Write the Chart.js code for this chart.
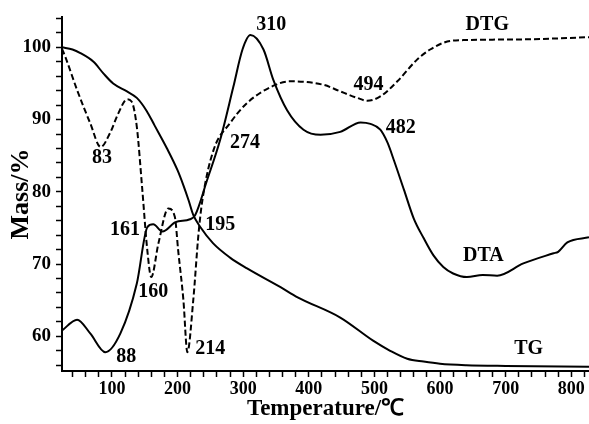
<!DOCTYPE html>
<html>
<head>
<meta charset="utf-8">
<script src="https://cdn.jsdelivr.net/npm/chart.js@4.4.1/dist/chart.umd.min.js"></script>
<style>
  html, body { margin: 0; padding: 0; background: #fff; }
  #chartTG { display: block; }
</style>
</head>
<body>
<canvas id="chartTG" width="589" height="424"></canvas>
<script>
// ============= DATA =============
const tgTemp = [24, 40, 52, 72, 87, 102, 123, 138, 153, 165, 184, 200, 209, 217, 224, 235, 254, 280, 306, 357, 383, 448, 498, 524, 550, 575, 600, 640, 700, 827];
const tgMass = [100, 99.7, 99.2, 98.0, 96.4, 95.0, 93.9, 93.0, 91.2, 89.2, 86.0, 83.0, 80.9, 78.8, 76.8, 75.1, 72.9, 70.9, 69.4, 66.8, 65.4, 62.6, 59.4, 58.0, 56.9, 56.5, 56.2, 56.0, 55.9, 55.8];

const dtaTemp = [24, 47, 67, 90, 113, 138, 154, 163, 177, 197, 219, 227, 245, 265, 285, 299, 311, 331, 346, 367, 392, 418, 448, 479, 494, 509, 520, 530, 545, 560, 575, 590, 605, 620, 641, 665, 687, 727, 773, 780, 794, 827];
const dtaVal  = [60.8, 62.3, 60.4, 57.8, 60.4, 67.3, 75.1, 75.5, 74.5, 75.8, 76.2, 76.8, 81.6, 87.2, 94.5, 99.7, 101.7, 99.7, 95.5, 91.3, 88.6, 87.9, 88.3, 89.6, 89.4, 88.6, 86.8, 84.3, 80.3, 76.3, 73.6, 71.2, 69.6, 68.7, 68.2, 68.5, 68.4, 70.1, 71.5, 71.7, 73.0, 73.7];

const dtgTemp = [24, 29, 47, 67, 83, 97, 110, 123, 130, 138, 146, 154, 160, 171, 186, 196, 201, 209, 215, 224, 232, 238, 255, 280, 306, 349, 372, 423, 448, 474, 489, 509, 535, 565, 585, 611, 636, 727, 827];
const dtgVal  = [99.8, 98.7, 94.1, 89.5, 86.2, 88.1, 90.9, 92.8, 92.5, 89.0, 80.7, 71.9, 68.2, 72.9, 77.7, 76.5, 71.9, 65.0, 57.8, 65.0, 74.2, 78.9, 85.8, 89.5, 92.3, 94.8, 95.3, 94.8, 93.9, 93.0, 92.6, 93.2, 95.3, 98.3, 99.7, 100.8, 101.0, 101.1, 101.4];

// peak annotations, placed in data units
const noteText = ['310', '83', '274', '161', '195', '160', '88', '214', '494', '482', 'DTG', 'DTA', 'TG'];
const noteTemp = [343, 85, 303, 120, 265, 163, 122, 250, 491, 540, 672, 666, 735];
const noteVal  = [103.1, 84.7, 86.8, 74.8, 75.5, 66.1, 57.1, 58.3, 94.8, 88.8, 103.1, 71.2, 58.2];

const xTicks = [];
for (let t = 40; t <= 820; t += 20) xTicks.push(t);
const yTicks = [];
for (let v = 56; v <= 104; v += 2) yTicks.push(v);

const FONT = '"Liberation Serif", "Times New Roman", serif';

function toPoints(xs, ys){
  return xs.map((x, i) => ({ x, y: ys[i] }));
}

// ============= ANNOTATION PLUGIN =============
const peakLabels = {
  id: 'peakLabels',
  afterDatasetsDraw(chart){
    const ctx = chart.ctx;
    const xs = chart.scales.x, ys = chart.scales.y;
    ctx.save();
    ctx.fillStyle = '#000';
    ctx.font = 'bold 20px ' + FONT;
    ctx.textAlign = 'center';
    ctx.textBaseline = 'middle';
    noteText.forEach((t, i) => {
      ctx.fillText(t, xs.getPixelForValue(noteTemp[i]), ys.getPixelForValue(noteVal[i]));
    });
    ctx.restore();
  }
};

const lineStyle = {
  borderColor: '#000',
  borderWidth: 2,
  pointRadius: 0,
  fill: false,
  cubicInterpolationMode: 'monotone'
};

new Chart(document.getElementById('chartTG'), {
  type: 'line',
  data: {
    datasets: [
      Object.assign({ label: 'TG', data: toPoints(tgTemp, tgMass) }, lineStyle),
      Object.assign({ label: 'DTA', data: toPoints(dtaTemp, dtaVal) }, lineStyle),
      Object.assign({ label: 'DTG', data: toPoints(dtgTemp, dtgVal), borderDash: [6, 3] }, lineStyle)
    ]
  },
  options: {
    responsive: false,
    animation: false,
    layout: { padding: { top: 17, right: 0, left: 0, bottom: 0 } },
    plugins: {
      legend: { display: false },
      tooltip: { enabled: false }
    },
    scales: {
      x: {
        type: 'linear',
        min: 24,
        max: 827,
        afterBuildTicks: (axis) => { axis.ticks = xTicks.map(v => ({ value: v })); },
        afterFit: (scale) => { scale.height = 53; },
        border: { display: true, color: '#000', width: 2 },
        grid: { drawOnChartArea: false, drawTicks: true, tickLength: 6, tickWidth: 1.5, tickColor: '#000' },
        ticks: {
          autoSkip: false,
          maxRotation: 0,
          padding: 2,
          color: '#000',
          font: { family: FONT, size: 18, weight: 'bold' },
          callback: (v) => (v % 100 === 0 ? String(v) : '')
        },
        title: {
          display: true,
          text: 'Temperature/℃',
          color: '#000',
          padding: { top: 0, bottom: 1 },
          font: { family: FONT, size: 23, weight: 'bold' }
        }
      },
      y: {
        type: 'linear',
        min: 55.2,
        max: 104.2,
        afterBuildTicks: (axis) => { axis.ticks = yTicks.map(v => ({ value: v })); },
        afterFit: (scale) => { scale.width = 62; },
        border: { display: true, color: '#000', width: 2 },
        grid: { drawOnChartArea: false, drawTicks: true, tickLength: 6, tickWidth: 1.5, tickColor: '#000' },
        ticks: {
          autoSkip: false,
          padding: 5,
          color: '#000',
          font: { family: FONT, size: 19, weight: 'bold' },
          callback: (v) => (v % 10 === 0 ? String(v) : '')
        },
        title: {
          display: true,
          text: 'Mass/%',
          color: '#000',
          padding: { top: 6, bottom: 0 },
          font: { family: FONT, size: 26, weight: 'bold' }
        }
      }
    }
  },
  plugins: [peakLabels]
});
</script>
</body>
</html>
